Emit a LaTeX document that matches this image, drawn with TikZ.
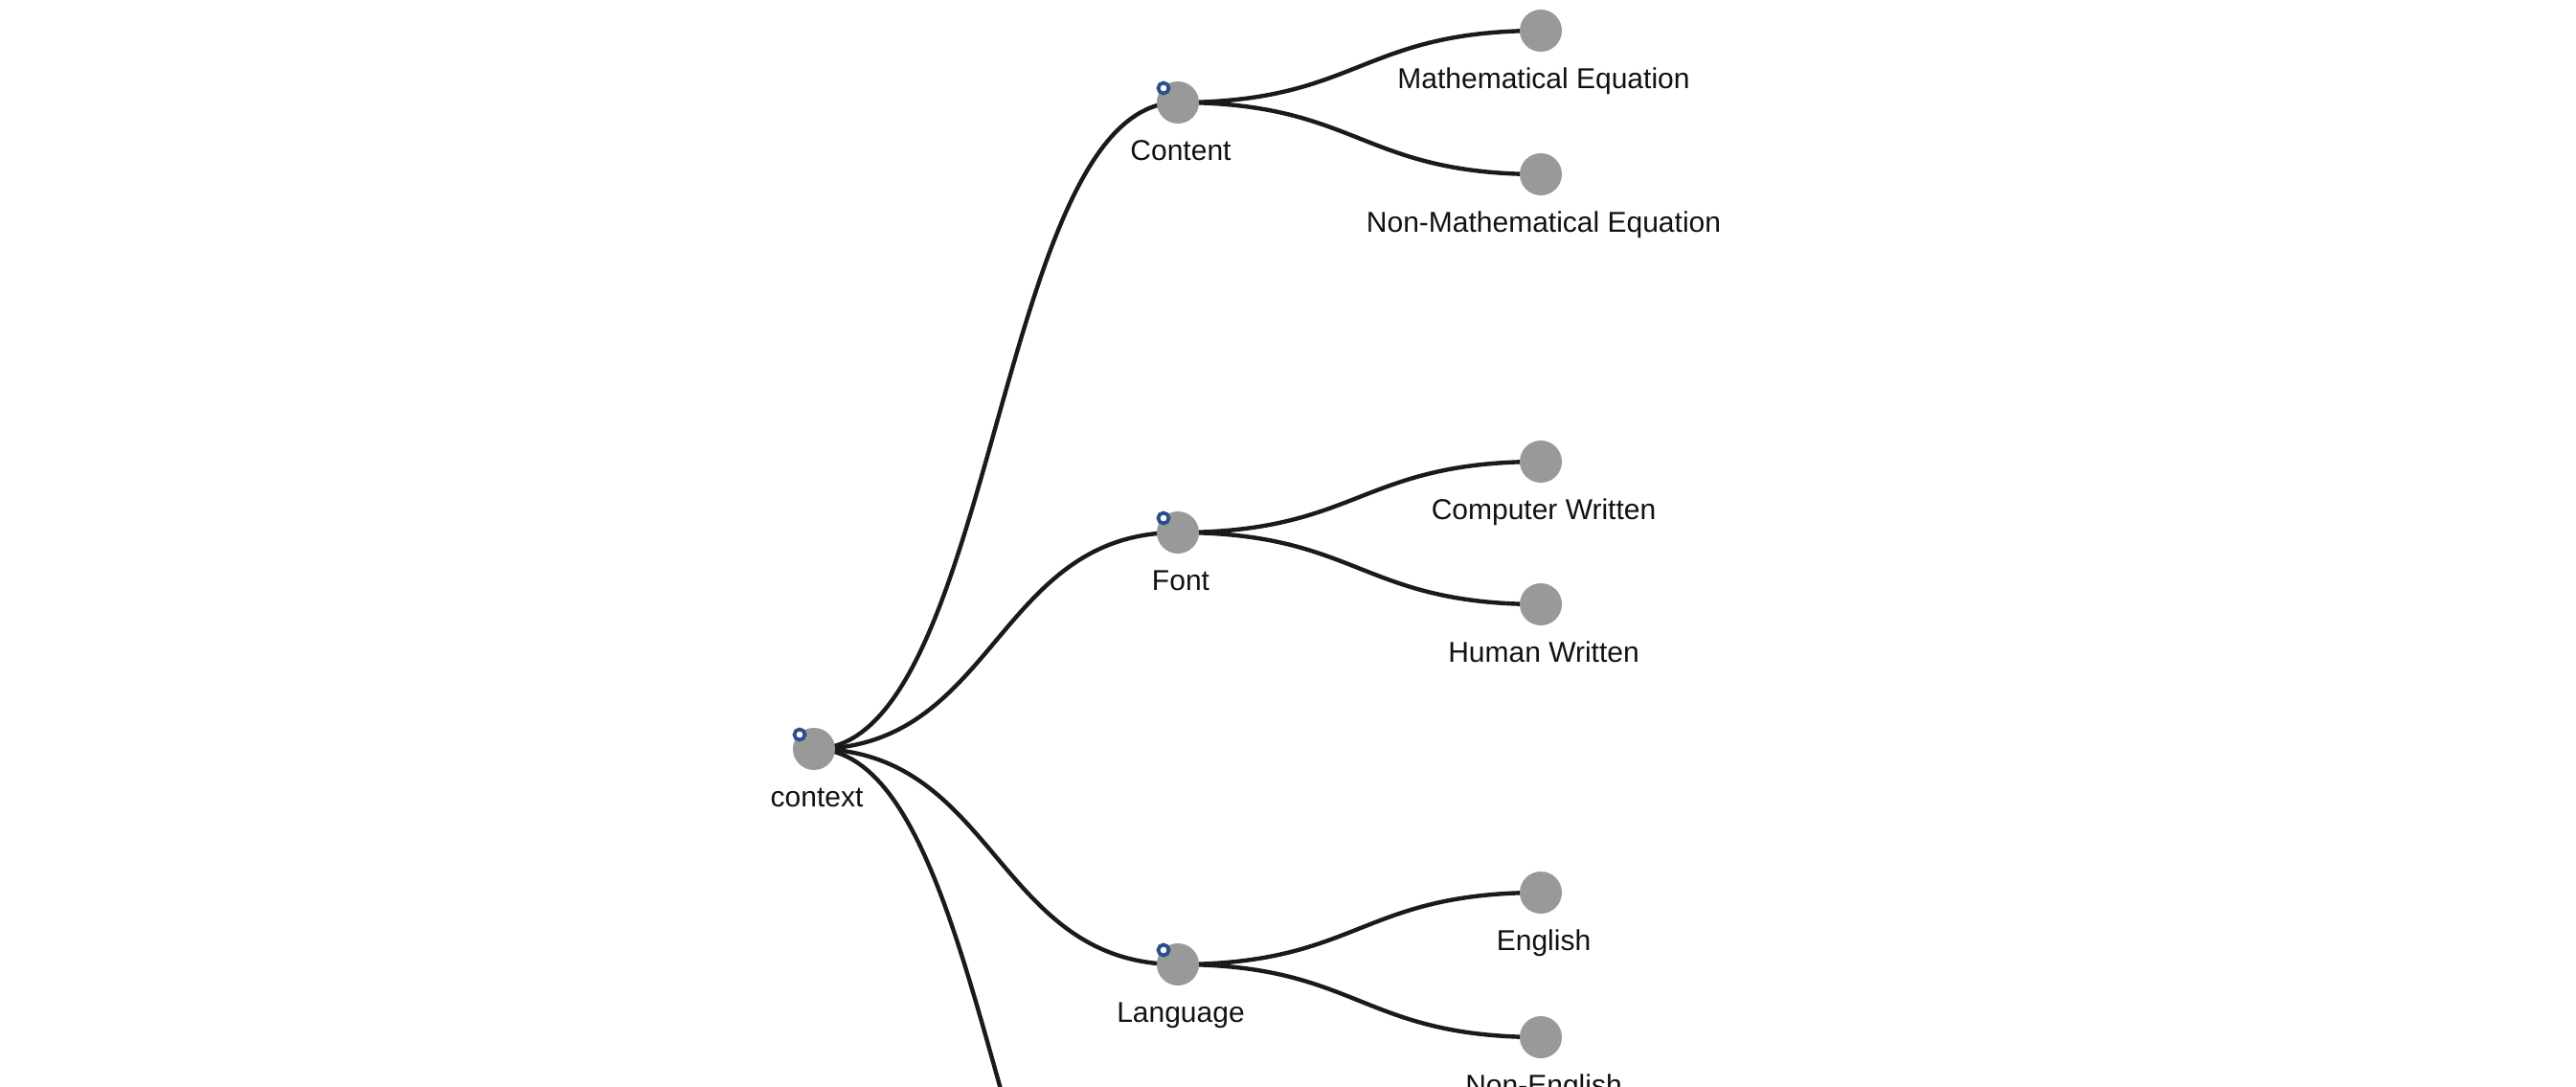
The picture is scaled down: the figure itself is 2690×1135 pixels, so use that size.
\documentclass[tikz,border=0pt]{standalone}
\usepackage{fontspec}
\setmainfont{Liberation Sans}
\usetikzlibrary{calc}
\definecolor{nodegray}{HTML}{999999}
\definecolor{linkcol}{HTML}{1A1A1A}
\definecolor{ringblue}{HTML}{2B4F8C}
\definecolor{txtcol}{HTML}{111111}
\tikzset{
  treenode/.style={circle, fill=nodegray, inner sep=0pt, minimum size=22pt},
  link/.style={draw=linkcol, line width=2.2pt},
  ring/.style={circle, draw=ringblue, fill=white, line width=1.9pt, inner sep=0pt, minimum size=5.5pt},
  lbl/.style={anchor=base, text=txtcol, inner sep=0pt, font=\fontsize{15pt}{17pt}\selectfont},
}
\newcommand\treelink[2]{%
  \draw[link] let \p1=(#1.center), \p2=(#2.center) in
    (\p1) .. controls ({(\x1+\x2)/2},\y1) and ({(\x1+\x2)/2},\y2) .. (\p2);}
\begin{document}
\begin{tikzpicture}[x=0.5pt, y=-0.5pt]
\useasboundingbox (0,0) rectangle (2690,1135);
\clip (0,0) rectangle (2690,1135);
% node positions
\coordinate (ctx) at (850,782);
\coordinate (content) at (1230,107);
\coordinate (font) at (1230,556);
\coordinate (lang) at (1230,1007);
\coordinate (fourth) at (1230,1457);
\coordinate (math) at (1609,32);
\coordinate (nonmath) at (1609,182);
\coordinate (comp) at (1609,482);
\coordinate (human) at (1609,631);
\coordinate (eng) at (1609,932);
\coordinate (noneng) at (1609,1083);
% links
\treelink{ctx}{content}
\treelink{ctx}{font}
\treelink{ctx}{lang}
\treelink{ctx}{fourth}
\treelink{content}{math}
\treelink{content}{nonmath}
\treelink{font}{comp}
\treelink{font}{human}
\treelink{lang}{eng}
\treelink{lang}{noneng}
% nodes
\foreach \n in {ctx,content,font,lang,math,nonmath,comp,human,eng,noneng}
  \node[treenode] (\n-c) at (\n) {};
\foreach \n in {ctx,content,font,lang}
  \node[ring] (\n-r) at ($(\n)+(-15,-15)$) {};
% labels
\node[lbl] (ctx-l) at ($(ctx)+(3,60)$) {context};
\node[lbl] (content-l) at ($(content)+(3,60)$) {Content};
\node[lbl] (font-l) at ($(font)+(3,60)$) {Font};
\node[lbl] (lang-l) at ($(lang)+(3,60)$) {Language};
\node[lbl] (math-l) at ($(math)+(3,60)$) {Mathematical Equation};
\node[lbl] (nonmath-l) at ($(nonmath)+(3,60)$) {Non-Mathematical Equation};
\node[lbl] (comp-l) at ($(comp)+(3,60)$) {Computer Written};
\node[lbl] (human-l) at ($(human)+(3,60)$) {Human Written};
\node[lbl] (eng-l) at ($(eng)+(3,60)$) {English};
\node[lbl] (noneng-l) at ($(noneng)+(3,60)$) {Non-English};
\end{tikzpicture}
\end{document}
